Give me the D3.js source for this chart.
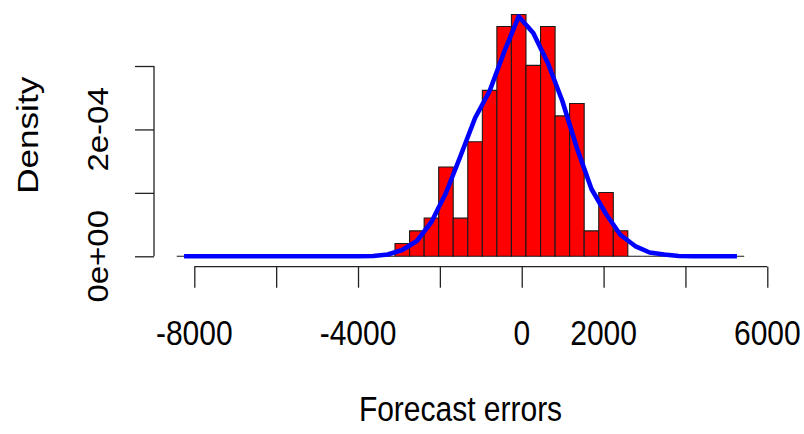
<!DOCTYPE html>
<html>
<head>
<meta charset="utf-8">
<script src="https://cdn.jsdelivr.net/npm/d3@7"></script>
<style>
  html, body { margin: 0; padding: 0; background: #fff; }
  svg { display: block; }
  text { font-family: "Liberation Sans", Arial, sans-serif; fill: #000; }
</style>
</head>
<body>
<svg id="chart" width="804" height="434"></svg>
<script>
// Histogram break points (equal-width bins) for the forecast errors
const breaks = [-8428, -8072, -7717, -7362, -7006, -6650, -6295, -5940, -5584, -5228,
                -4873, -4518, -4162, -3806, -3451, -3096, -2740, -2384, -2029, -1674,
                -1318, -962, -607, -252, 104, 460, 815, 1170, 1526, 1882,
                2237, 2592, 2948, 3304, 3659, 4014, 4370, 4726, 5081, 5436];

// Number of forecast errors falling in each bin
const counts = [0, 0, 0, 0, 0, 0, 0, 0, 0, 0,
                0, 0, 0, 0, 0, 1, 2, 3, 7, 3,
                9, 13, 18, 19, 15, 18, 11, 12, 2, 5,
                2, 0, 0, 0, 0, 0, 0, 0, 0];

// Density of simulated normal data (mean 0, same sd) at each bin midpoint
const normalDensity = [0, 0, 0, 0, 0, 0, 0, 0, 0, 0,
                       0, 0, 0, 0.0000005, 0.0000028, 0.0000099, 0.0000241, 0.0000541, 0.0000998, 0.0001581,
                       0.000218, 0.0002606, 0.0003221, 0.0003781, 0.000352, 0.0003048, 0.0002448, 0.0001707, 0.0001061, 0.0000667,
                       0.0000336, 0.0000162, 0.000006, 0.0000028, 0.0000005, 0, 0, 0, 0];

// Axis ticks and the labels that are printed
const xTicks = [-8000, -6000, -4000, -2000, 0, 2000, 4000, 6000];
const xTickLabels = ["-8000", "", "-4000", "", "0", "2000", "", "6000"];
const yTicks = [0, 0.0001, 0.0002, 0.0003];
const yTickLabels = ["0e+00", "", "2e-04", ""];

const xTitle = "Forecast errors";
const yTitle = "Density";

const svg = d3.select("#chart");
const FONT = 30;       // font size of all text
const STRETCH = 1.17;  // text is drawn slightly taller than wide
const YSTRETCH = 1.1;  // along-text stretch of the rotated tick labels

const x = d3.scaleLinear().domain([-8000, 6000]).range([194.3, 767.3]);
const y = d3.scaleLinear().domain([0, 0.0003]).range([256.3, 66]);

// Histogram bars as densities (area sums to one)
const total = d3.sum(counts);
const bins = counts.map((c, i) => ({
  x0: breaks[i],
  x1: breaks[i + 1],
  density: c / (total * (breaks[i + 1] - breaks[i]))
}));

svg.append("g")
  .selectAll("path")
  .data(bins)
  .join("path")
  .attr("d", d => {
    const a = x(d.x0), b = x(d.x1), y0 = y(0), y1 = y(d.density);
    return `M${a},${y0}V${y1}H${b}V${y0}Z`;
  })
  .attr("fill", "#ff0000")
  .attr("stroke", "#1a1a1a")
  .attr("stroke-width", 1.1);

// Normal curve through the bin midpoints
const mids = bins.map(d => (d.x0 + d.x1) / 2);
const line = d3.line()
  .x((d, i) => x(mids[i]))
  .y(d => y(d));

svg.append("path")
  .datum(normalDensity)
  .attr("d", line)
  .attr("fill", "none")
  .attr("stroke", "#0000ff")
  .attr("stroke-width", 4.6)
  .attr("stroke-linejoin", "round");

// X axis
const xAxis = svg.append("g")
  .attr("transform", "translate(0,266.7)")
  .call(d3.axisBottom(x).tickValues(xTicks).tickSize(21).tickFormat(() => ""));
xAxis.selectAll(".domain").attr("d", `M${x(xTicks[0])},0H${x(xTicks[xTicks.length - 1])}`);
xAxis.selectAll("path, line").attr("stroke", "#222").attr("stroke-width", 1.3);

svg.append("g")
  .selectAll("text")
  .data(xTicks)
  .join("text")
  .attr("transform", d => `translate(${x(d)},344.5) scale(1,${STRETCH})`)
  .attr("text-anchor", "middle")
  .attr("font-size", FONT)
  .text((d, i) => xTickLabels[i]);

// Y axis
const yAxis = svg.append("g")
  .attr("transform", "translate(154,0)")
  .call(d3.axisLeft(y).tickValues(yTicks).tickSize(19).tickFormat(() => ""));
yAxis.selectAll(".domain").attr("d", `M0,${y(yTicks[0])}V${y(yTicks[yTicks.length - 1])}`);
yAxis.selectAll("path, line").attr("stroke", "#222").attr("stroke-width", 1.3);

svg.append("g")
  .selectAll("text")
  .data(yTicks)
  .join("text")
  .attr("transform", d => `translate(108,${y(d)}) rotate(-90) scale(${YSTRETCH},1)`)
  .attr("text-anchor", "middle")
  .attr("font-size", FONT)
  .text((d, i) => yTickLabels[i]);

// Axis titles
svg.append("text")
  .attr("transform", `translate(460.5,421) scale(1,${STRETCH})`)
  .attr("text-anchor", "middle")
  .attr("font-size", FONT)
  .text(xTitle);

svg.append("text")
  .attr("transform", `translate(38,135.3) rotate(-90) scale(${STRETCH},1)`)
  .attr("text-anchor", "middle")
  .attr("font-size", FONT)
  .text(yTitle);
</script>
</body>
</html>
